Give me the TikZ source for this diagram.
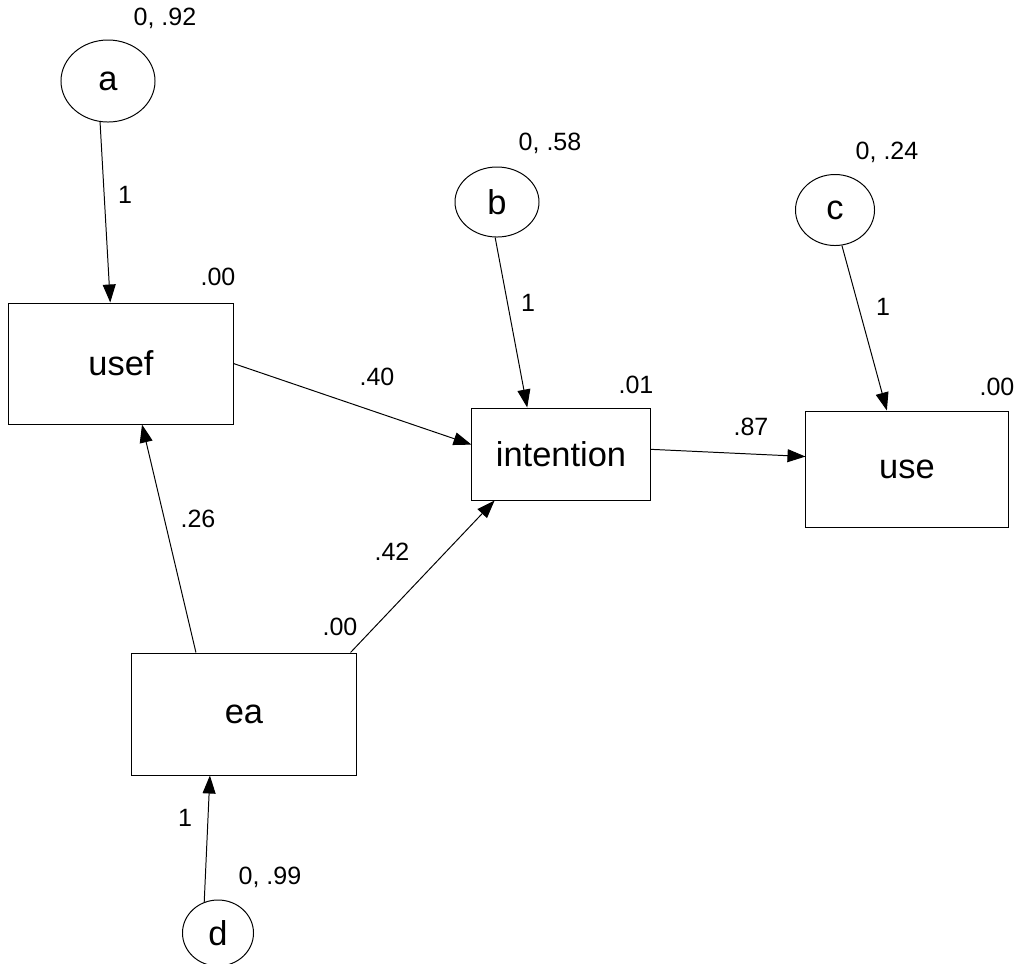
\documentclass[tikz,border=0pt]{standalone}
\usepackage{fontspec}
\setmainfont{Liberation Sans}
\usetikzlibrary{arrows.meta,shapes.geometric}

\begin{document}
\begin{tikzpicture}[x=0.025cm,y=-0.025cm,line width=0.7pt,>={Triangle[length=12.8pt,width=9.2pt]},
	obs/.style={draw,rectangle,inner sep=0pt,font=\fontsize{24.5}{28}\selectfont},
	err/.style={draw,ellipse,inner sep=0pt,font=\fontsize{24.5}{28}\selectfont},
	lbl/.style={inner sep=0pt,font=\fontsize{17.8}{20}\selectfont}]
	\useasboundingbox (0,0) rectangle (1018,963);
	% observed variables
	\node[obs,minimum width=5.6cm,minimum height=3.025cm] (usef) at (121,363.5) {usef};
	\node[obs,minimum width=4.45cm,minimum height=2.3cm] (intention) at (561,454) {intention};
	\node[obs,minimum width=5.05cm,minimum height=2.9cm] (use) at (907,469) {use};
	\node[obs,minimum width=5.6cm,minimum height=3.05cm] (ea) at (244,714) {ea};
	% error terms
	\node[err,minimum width=2.35cm,minimum height=2.05cm] (a) at (108,81) {a};
	\node[err,minimum width=2.1cm,minimum height=1.75cm] (b) at (497,202) {b};
	\node[err,minimum width=1.975cm,minimum height=1.775cm] (c) at (835,210) {c};
	\node[err,minimum width=1.775cm,minimum height=1.65cm] (d) at (218,933) {d};
	% paths
	\draw[->] (a.-101) -- (usef.100);
	\draw[->] (b.-93) -- (intention.126);
	\draw[->] (c.-79) -- (use.109);
	\draw[->] (usef.east) -- (intention.174);
	\draw[->] (intention.3) -- (use.173);
	\draw[->] (ea.128) -- (usef.-71);
	\draw[->] (ea.30) -- (intention.-145);
	\draw[->] (d.114) -- (ea.-119);
	% means, variances and weights
	\node[lbl] (va) at (165,18) {0, .92};
	\node[lbl] (vb) at (550,143) {0, .58};
	\node[lbl] (vc) at (887,152) {0, .24};
	\node[lbl] (vd) at (270,877) {0, .99};
	\node[lbl] (wa) at (125,195) {1};
	\node[lbl] (wb) at (528,303) {1};
	\node[lbl] (wc) at (883,307) {1};
	\node[lbl] (wd) at (185,818) {1};
	\node[lbl] (rusef) at (218,277) {.00};
	\node[lbl] (rintention) at (636,385) {.01};
	\node[lbl] (ruse) at (997,387) {.00};
	\node[lbl] (rea) at (340,627) {.00};
	\node[lbl] (pui) at (377,377) {.40};
	\node[lbl] (piu) at (751,427) {.87};
	\node[lbl] (peu) at (198,519) {.26};
	\node[lbl] (pei) at (392,552) {.42};
\end{tikzpicture}
\end{document}
